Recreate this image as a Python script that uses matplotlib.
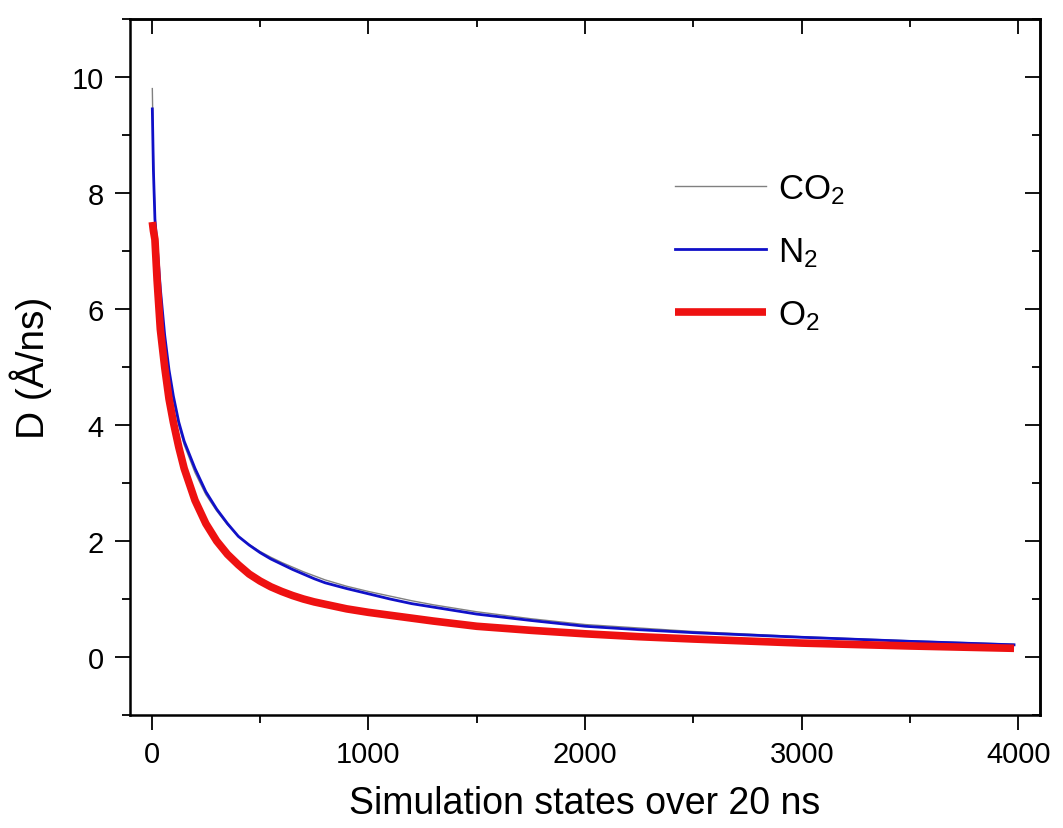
import matplotlib
matplotlib.use("Agg")
import matplotlib.pyplot as plt
from matplotlib.ticker import MultipleLocator

plt.rcParams['font.family'] = ['Liberation Sans', 'DejaVu Sans']
plt.rcParams['mathtext.fontset'] = 'custom'
plt.rcParams['mathtext.rm'] = 'Liberation Sans'
plt.rcParams['mathtext.it'] = 'Liberation Sans'

# simulation state index
states = [3, 8, 15, 25, 40, 60, 80, 100, 125, 150, 200, 250, 300, 350, 400,
          450, 500, 550, 600, 650, 700, 750, 800, 900, 1000, 1100, 1200, 1300,
          1500, 1750, 2000, 2250, 2500, 3000, 3500, 3980]

# diffusion coefficient D (A/ns)
d_co2 = [9.8, 8.6, 7.6, 7.05, 6.3, 5.5, 4.9, 4.45, 4.0, 3.66, 3.18, 2.8, 2.52,
         2.28, 2.08, 1.94, 1.82, 1.72, 1.63, 1.55, 1.47, 1.40, 1.33, 1.22,
         1.13, 1.05, 0.97, 0.9, 0.78, 0.66, 0.56, 0.5, 0.44, 0.35, 0.28, 0.22]
d_n2 = [9.45, 8.4, 7.55, 7.1, 6.35, 5.55, 4.95, 4.5, 4.05, 3.72, 3.25, 2.85,
        2.55, 2.3, 2.08, 1.93, 1.8, 1.69, 1.6, 1.51, 1.43, 1.35, 1.28, 1.18,
        1.09, 1.0, 0.92, 0.86, 0.74, 0.63, 0.53, 0.47, 0.42, 0.34, 0.27, 0.21]
d_o2 = [7.5, 7.35, 7.2, 6.5, 5.65, 5.0, 4.45, 4.05, 3.62, 3.25, 2.7, 2.3, 2.0,
        1.77, 1.59, 1.43, 1.31, 1.21, 1.13, 1.06, 1.0, 0.95, 0.91, 0.83,
        0.77, 0.72, 0.67, 0.62, 0.53, 0.46, 0.40, 0.35, 0.31, 0.24, 0.19,
        0.15]

fig = plt.figure(figsize=(10.63, 8.29), dpi=100)
ax = fig.add_axes([0.1223, 0.1363, 0.8561, 0.8396])

ax.plot(states, d_co2, color='#808080', lw=1.0, label='CO$_2$')
ax.plot(states, d_n2, color='#1010c8', lw=2.0, label='N$_2$')
ax.plot(states, d_o2, color='#ee1111', lw=5.5, solid_capstyle='butt',
        solid_joinstyle='round', label='O$_2$')

ax.set_xlim(-100, 4100)
ax.set_ylim(-1, 11)
ax.xaxis.set_major_locator(MultipleLocator(1000))
ax.xaxis.set_minor_locator(MultipleLocator(500))
ax.yaxis.set_major_locator(MultipleLocator(2))
ax.yaxis.set_minor_locator(MultipleLocator(1))

for s in ax.spines.values():
    s.set_linewidth(1.8)

ax.tick_params(which='both', direction='out', width=1.3, labelsize=21)
ax.tick_params(which='major', length=11)
ax.tick_params(which='minor', length=5.5)
ax.tick_params(axis='x', pad=7)
ax.tick_params(axis='y', pad=8)

# inward ticks on top and right, no labels
sec_x = ax.secondary_xaxis('top')
sec_x.xaxis.set_major_locator(MultipleLocator(1000))
sec_x.xaxis.set_minor_locator(MultipleLocator(500))
sec_x.tick_params(which='both', direction='in', width=1.3, labeltop=False)
sec_x.tick_params(which='major', length=11)
sec_x.tick_params(which='minor', length=5.5)
sec_x.spines['top'].set_linewidth(1.8)
sec_y = ax.secondary_yaxis('right')
sec_y.yaxis.set_major_locator(MultipleLocator(2))
sec_y.yaxis.set_minor_locator(MultipleLocator(1))
sec_y.tick_params(which='both', direction='in', width=1.3, labelright=False)
sec_y.tick_params(which='major', length=11)
sec_y.tick_params(which='minor', length=5.5)
sec_y.spines['right'].set_linewidth(1.8)

ax.set_xlabel('Simulation states over 20 ns', fontsize=27, labelpad=12)
ax.set_ylabel('D (Å/ns)', fontsize=28, labelpad=14)

ax.legend(loc='upper left', bbox_to_anchor=(0.565, 0.825), frameon=False,
          fontsize=25, handlelength=2.6, labelspacing=0.85, handletextpad=0.35)

fig.savefig('out.png', dpi=100)
